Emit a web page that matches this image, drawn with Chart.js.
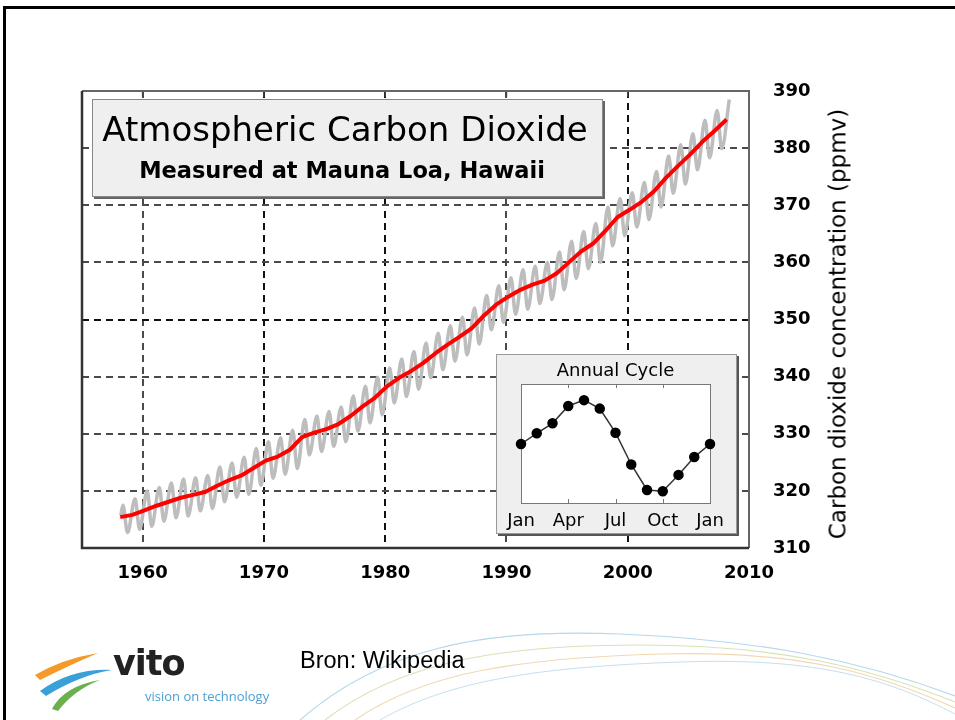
<!DOCTYPE html>
<html lang="en">
<head>
    <meta charset="UTF-8">
    <title>Atmospheric Carbon Dioxide - Mauna Loa</title>
    <style>
        body {
            margin: 0;
            width: 955px;
            height: 720px;
            overflow: hidden;
            background: #fff;
            position: relative;
            font-family: "DejaVu Sans", sans-serif;
        }
        .frame {
            position: absolute;
            left: 3px;
            top: 6px;
            width: 1000px;
            height: 800px;
            border-top: 3px solid #000;
            border-left: 3px solid #000;
        }
        #main {
            position: absolute;
            left: 0;
            top: 0;
        }
        .title-box {
            position: absolute;
            left: 92px;
            top: 99px;
            width: 509px;
            height: 96px;
            background: #efefef;
            border: 1px solid #888;
            box-shadow: 2px 2px 0 #666;
        }
        .title-box .t1, .title-box .t2 {
            position: absolute;
            width: 600px;
            text-align: center;
            white-space: nowrap;
            color: #000;
        }
        .title-box .t1 {
            left: -48px;
            top: 12px;
            font-size: 34px;
            line-height: 34px;
        }
        .title-box .t2 {
            left: -51px;
            top: 59px;
            font-size: 22.5px;
            line-height: 22.5px;
            font-weight: bold;
        }
        .y-title {
            position: absolute;
            left: 837.5px;
            top: 324px;
            width: 500px;
            text-align: center;
            font-size: 23px;
            line-height: 23px;
            white-space: nowrap;
            transform: translate(-50%, -50%) rotate(-90deg);
        }
        .inset {
            position: absolute;
            left: 496px;
            top: 354px;
            width: 239px;
            height: 178px;
            background: #efefef;
            border: 1px solid #999;
            box-shadow: 2px 2px 0 #555;
        }
        #inset {
            display: block;
        }
        .deco {
            position: absolute;
            left: 0;
            top: 0;
        }
        .source {
            position: absolute;
            left: 300px;
            top: 648px;
            font-family: "Liberation Sans", Arial, sans-serif;
            font-size: 23.5px;
            line-height: 24px;
            color: #000;
        }
        .vito {
            position: absolute;
            left: 113px;
            top: 643px;
            font-size: 35px;
            line-height: 40px;
            font-weight: bold;
            letter-spacing: -1px;
            color: #222;
        }
        .vito-sub {
            position: absolute;
            left: 145px;
            top: 688px;
            font-family: "Open Sans", sans-serif;
            font-size: 13px;
            line-height: 16px;
            color: #4d9ed1;
        }
    </style>
    <script src="https://cdn.jsdelivr.net/npm/chart.js"></script>
</head>
<body>
    <svg class="deco" width="955" height="720">
        <!-- achtergrond-lijnen van de slide -->
        <path d="M 300 720 C 380 650, 480 628, 620 634 S 860 660, 955 696" fill="none" stroke="#b4d8ec" stroke-width="1.2"/>
        <path d="M 325 720 C 400 662, 500 645, 640 645 S 870 668, 955 702" fill="none" stroke="#d6e4b4" stroke-width="1.2"/>
        <path d="M 355 720 C 425 672, 520 658, 660 654 S 880 674, 955 708" fill="none" stroke="#f2d8b0" stroke-width="1.2"/>
        <path d="M 380 720 C 450 680, 540 667, 680 662 S 890 680, 955 714" fill="none" stroke="#c4e0f0" stroke-width="1"/>
        <!-- vito logo -->
        <path d="M 35 675 Q 62 659 98 653 Q 70 665 40 680 Z" fill="#f39a2b"/>
        <path d="M 40 691 Q 72 668 112 670 Q 80 675 46 696 Z" fill="#3aa0d8"/>
        <path d="M 52 709 Q 64 686 100 680 Q 74 690 58 711 Z" fill="#6ab04c"/>
    </svg>

    <div class="frame"></div>
    <canvas id="main" width="955" height="720"></canvas>

    <div class="title-box">
        <div class="t1">Atmospheric Carbon Dioxide</div>
        <div class="t2">Measured at Mauna Loa, Hawaii</div>
    </div>
    <div class="y-title">Carbon dioxide concentration (ppmv)</div>

    <div class="inset"><canvas id="inset" width="239" height="178"></canvas></div>

    <div class="vito">vito</div>
    <div class="vito-sub">vision on technology</div>
    <div class="source">Bron: Wikipedia</div>

    <script>
        // jaren van de meetreeks
        const years = [
            1958, 1959, 1960, 1961, 1962, 1963, 1964, 1965, 1966, 1967,
            1968, 1969, 1970, 1971, 1972, 1973, 1974, 1975, 1976, 1977,
            1978, 1979, 1980, 1981, 1982, 1983, 1984, 1985, 1986, 1987,
            1988, 1989, 1990, 1991, 1992, 1993, 1994, 1995, 1996, 1997,
            1998, 1999, 2000, 2001, 2002, 2003, 2004, 2005, 2006, 2007, 2008
        ];

        // rode lijn: trend (begin van elk jaar), ppmv
        const trendValues = [
            315.4, 315.8, 316.6, 317.4, 318.1, 318.8, 319.3, 319.8, 320.9, 321.9,
            322.7, 324.0, 325.3, 326.0, 327.2, 329.4, 330.2, 330.8, 331.7, 333.1,
            334.8, 336.3, 338.3, 339.8, 341.0, 342.4, 344.1, 345.6, 347.0, 348.5,
            350.7, 352.6, 354.0, 355.2, 356.1, 356.8, 358.1, 360.0, 361.9, 363.3,
            365.5, 367.9, 369.2, 370.6, 372.4, 374.8, 376.9, 378.9, 381.1, 383.0, 385.0
        ];

        // grijze lijn: maandwaarden, maximum (mei) en minimum (sep/okt) per jaar
        const peakValues = [
            317.5, 318.6, 320.0, 320.6, 321.4, 322.1, 322.3, 322.7, 324.2, 324.9,
            325.9, 327.4, 328.6, 329.3, 330.6, 332.5, 333.1, 333.9, 334.7, 336.6,
            338.3, 339.9, 341.5, 343.1, 344.4, 345.9, 347.6, 348.9, 350.4, 352.0,
            354.2, 355.9, 357.3, 358.7, 359.3, 360.0, 361.8, 363.7, 365.4, 366.8,
            369.7, 371.2, 372.2, 374.0, 375.9, 378.6, 380.6, 382.5, 384.9, 386.6, 388.5
        ];
        const troughValues = [
            312.7, 313.3, 313.8, 314.7, 315.3, 315.6, 316.5, 316.9, 318.1, 318.9,
            319.4, 321.0, 322.2, 322.9, 323.9, 326.3, 326.9, 327.8, 328.6, 330.5,
            331.9, 333.3, 335.4, 336.5, 337.8, 339.8, 341.2, 342.7, 343.8, 345.7,
            348.2, 349.5, 350.9, 351.8, 352.8, 353.5, 355.2, 357.2, 358.9, 360.0,
            362.9, 364.7, 366.2, 367.5, 369.7, 372.1, 373.7, 376.2, 378.3, 379.9
        ];
        const firstMonthly = { x: 1958.2, y: 315.7 };

        // as-labels
        const xTicks = [1960, 1970, 1980, 1990, 2000, 2010];
        const yTicks = [310, 320, 330, 340, 350, 360, 370, 380, 390];

        // inzet: jaarlijkse cyclus (afwijking in ppmv), jan t/m jan
        const cycleValues = [-0.03, 0.69, 1.36, 2.53, 2.92, 2.35, 0.73, -1.41, -3.12, -3.21, -2.11, -0.91, -0.03];
        const cycleTickLabels = ['Jan', 'Apr', 'Jul', 'Oct', 'Jan'];

        // punten opbouwen
        const trendPoints = years.map((yr, i) => ({ x: yr + 0.15, y: trendValues[i] }));
        const monthlyPoints = [firstMonthly];
        years.forEach((yr, i) => {
            monthlyPoints.push({ x: yr + 0.375, y: peakValues[i] });
            if (i < troughValues.length) {
                monthlyPoints.push({ x: yr + 0.75, y: troughValues[i] });
            }
        });
        const cyclePoints = cycleValues.map((v, i) => ({ x: i, y: v }));

        const darkX = [1970, 1980, 2000];
        const darkY = [350];

        // assen-kader zoals in het origineel
        const plotFrame = {
            id: 'plotFrame',
            afterDraw(chart) {
                const { ctx, chartArea: a } = chart;
                ctx.save();
                ctx.strokeStyle = '#444';
                ctx.lineWidth = 1.5;
                chart.scales.x.ticks.forEach(t => {
                    const px = chart.scales.x.getPixelForValue(t.value);
                    ctx.beginPath();
                    ctx.moveTo(px, a.top);
                    ctx.lineTo(px, a.top + 6);
                    ctx.stroke();
                });
                ctx.lineWidth = 2;
                ctx.strokeStyle = '#666';
                ctx.beginPath();
                ctx.moveTo(a.left, a.top);
                ctx.lineTo(a.right, a.top);
                ctx.lineTo(a.right, a.bottom);
                ctx.stroke();
                ctx.lineWidth = 2.5;
                ctx.strokeStyle = '#333';
                ctx.beginPath();
                ctx.moveTo(a.left, a.top);
                ctx.lineTo(a.left, a.bottom);
                ctx.lineTo(a.right, a.bottom);
                ctx.stroke();
                ctx.restore();
            }
        };

        const tickFont = { family: 'DejaVu Sans', size: 18, weight: 'bold' };

        new Chart(document.getElementById('main'), {
            type: 'line',
            data: {
                datasets: [
                    {
                        label: 'Trend',
                        data: trendPoints,
                        borderColor: '#ff0000',
                        borderWidth: 4,
                        pointRadius: 0,
                        tension: 0,
                        borderJoinStyle: 'round',
                        order: 0
                    },
                    {
                        label: 'Maandwaarden',
                        data: monthlyPoints,
                        borderColor: '#bdbdbd',
                        borderWidth: 3.5,
                        pointRadius: 0,
                        cubicInterpolationMode: 'monotone',
                        order: 1
                    }
                ]
            },
            options: {
                responsive: false,
                animation: false,
                layout: { padding: { left: 82, top: 91, right: 0, bottom: 0 } },
                plugins: {
                    legend: { display: false },
                    tooltip: { enabled: false }
                },
                scales: {
                    x: {
                        type: 'linear',
                        min: 1955,
                        max: 2010,
                        afterFit: s => { s.height = 172; },
                        afterBuildTicks: s => { s.ticks = xTicks.map(v => ({ value: v })); },
                        ticks: {
                            color: '#000',
                            font: tickFont,
                            padding: 15,
                            maxRotation: 0,
                            callback: v => String(v)
                        },
                        grid: {
                            drawTicks: false,
                            lineWidth: 2,
                            color: c => (c.tick && darkX.includes(c.tick.value)) ? '#111' : '#4a4a4a'
                        },
                        border: { display: false, dash: [7, 5] }
                    },
                    y: {
                        position: 'right',
                        min: 310,
                        max: 390,
                        afterFit: s => { s.width = 206; },
                        afterBuildTicks: s => { s.ticks = yTicks.map(v => ({ value: v })); },
                        ticks: {
                            color: '#000',
                            font: tickFont,
                            padding: 24,
                            callback: v => String(v)
                        },
                        grid: {
                            drawTicks: false,
                            lineWidth: 2,
                            color: c => (c.tick && darkY.includes(c.tick.value)) ? '#111' : '#4a4a4a'
                        },
                        border: { display: false, dash: [7, 5] }
                    }
                }
            },
            plugins: [plotFrame]
        });

        // witte binnenkant + kader van de inzet
        const insetArea = {
            id: 'insetArea',
            beforeDatasetsDraw(chart) {
                const { ctx, chartArea: a } = chart;
                ctx.save();
                ctx.fillStyle = '#fff';
                ctx.fillRect(a.left, a.top, a.right - a.left, a.bottom - a.top);
                ctx.strokeStyle = '#777';
                ctx.lineWidth = 1;
                chart.scales.x.ticks.forEach(t => {
                    const px = Math.round(chart.scales.x.getPixelForValue(t.value)) + 0.5;
                    ctx.beginPath();
                    ctx.moveTo(px, a.top);
                    ctx.lineTo(px, a.top + 4);
                    ctx.moveTo(px, a.bottom);
                    ctx.lineTo(px, a.bottom - 4);
                    ctx.stroke();
                });
                ctx.strokeRect(Math.round(a.left) + 0.5, Math.round(a.top) + 0.5,
                    Math.round(a.right - a.left), Math.round(a.bottom - a.top));
                ctx.restore();
            }
        };

        new Chart(document.getElementById('inset'), {
            type: 'line',
            data: {
                datasets: [{
                    data: cyclePoints,
                    borderColor: '#333',
                    borderWidth: 1.5,
                    pointRadius: 4.5,
                    pointBackgroundColor: '#000',
                    pointBorderColor: '#000',
                    tension: 0,
                    clip: false
                }]
            },
            options: {
                responsive: false,
                animation: false,
                layout: { padding: { left: 24, right: 26, top: 0, bottom: 0 } },
                plugins: {
                    legend: { display: false },
                    tooltip: { enabled: false },
                    title: {
                        display: true,
                        text: 'Annual Cycle',
                        color: '#000',
                        font: { family: 'DejaVu Sans', size: 18, weight: 'normal' },
                        padding: { top: 6, bottom: 1.5 }
                    }
                },
                scales: {
                    x: {
                        type: 'linear',
                        min: 0,
                        max: 12,
                        afterFit: s => { s.height = 30; },
                        ticks: {
                            stepSize: 3,
                            padding: 7.5,
                            color: '#000',
                            maxRotation: 0,
                            font: { family: 'DejaVu Sans', size: 18 },
                            callback: v => cycleTickLabels[v / 3]
                        },
                        grid: { display: false, drawTicks: false },
                        border: { display: false }
                    },
                    y: { display: false, min: -4, max: 4 }
                }
            },
            plugins: [insetArea]
        });
    </script>
</body>
</html>
